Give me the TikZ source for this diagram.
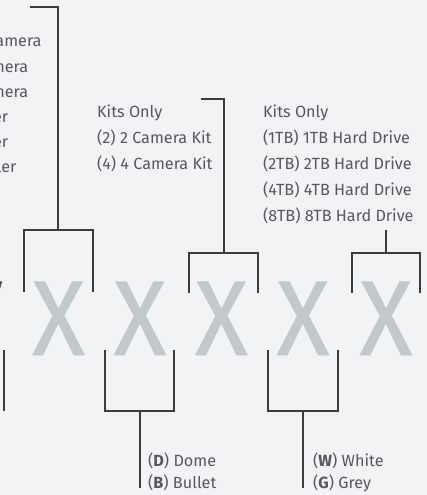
\documentclass[tikz,border=0pt]{standalone}
\usepackage{fontspec}
\setmainfont{Fira Sans}
\newfontfamily\xfont{Fira Sans}[FakeBold=0.9]
\usepackage{graphicx}
\definecolor{bg}{HTML}{F2F3F5}
\definecolor{lc}{HTML}{3C3C3C}
\definecolor{xg}{HTML}{C1C9CD}
\definecolor{tc}{HTML}{55595D}
\definecolor{dk}{HTML}{4A4A4A}
\begin{document}
\begin{tikzpicture}[x=1pt,y=-1pt,
  lbl/.style={font=\fontsize{16.2}{19}\selectfont, text=tc, inner sep=0pt},
  xl/.style={font=\xfont\fontsize{106}{106}\selectfont, text=xg, inner sep=0pt, anchor=base},
  br/.style={draw=lc, line width=1.1pt}]
\useasboundingbox (0,0) rectangle (427,495);
\clip (0,0) rectangle (427,495);
\fill[bg] (0,0) rectangle (427,495);

% big letters
\node[xl, text=dk] (x0) at (-25,355) {\scalebox{0.92}[1]{V}};
\node[xl] (x1) at (58.5,355) {\scalebox{0.92}[1]{X}};
\node[xl] (x2) at (140,355) {\scalebox{0.92}[1]{X}};
\node[xl] (x3) at (221.5,355) {\scalebox{0.92}[1]{X}};
\node[xl] (x4) at (303,355) {\scalebox{0.92}[1]{X}};
\node[xl] (x5) at (386,355) {\scalebox{0.92}[1]{X}};

% left (cut) group
\node[lbl, anchor=base east] (l1) at (41.7,47) {amera};
\node[lbl, anchor=base east] (l2) at (28.3,72) {nera};
\node[lbl, anchor=base east] (l3) at (28.3,97) {nera};
\node[lbl, anchor=base east] (l4) at (8.3,122) {er};
\node[lbl, anchor=base east] (l5) at (8.3,147) {er};
\node[lbl, anchor=base east] (l6) at (16.7,172) {ler};

% kits group
\node[lbl, anchor=base west] (k1) at (97,117) {Kits Only};
\node[lbl, anchor=base west] (k2) at (97,143) {(2) 2 Camera Kit};
\node[lbl, anchor=base west] (k3) at (97,169) {(4) 4 Camera Kit};

% hard drive group
\node[lbl, anchor=base west] (h1) at (263,117) {Kits Only};
\node[lbl, anchor=base west] (h2) at (263,143) {(1TB) 1TB Hard Drive};
\node[lbl, anchor=base west] (h3) at (263,169) {(2TB) 2TB Hard Drive};
\node[lbl, anchor=base west] (h4) at (263,195) {(4TB) 4TB Hard Drive};
\node[lbl, anchor=base west] (h5) at (263,221) {(8TB) 8TB Hard Drive};

% bottom groups
\node[lbl, anchor=base west] (d1) at (148,466.5) {(\textbf{D}) Dome};
\node[lbl, anchor=base west] (d2) at (148,488) {(\textbf{B}) Bullet};
\node[lbl, anchor=base west] (w1) at (313,466.5) {(\textbf{W}) White};
\node[lbl, anchor=base west] (w2) at (313,488) {(\textbf{G}) Grey};

% coordinates
\coordinate (t1) at (30,7);
\coordinate (t2) at (201,99);

% bracket 1 (top, under left group)
\draw[br] (t1) -- (58,7) -- (58,230);
\draw[br] (24,292) -- (24,230) -- (93,230) -- (93,292);
% bracket 2 (bottom)
\draw[br] (105,350) -- (105,411) -- (174,411) -- (174,350);
\draw[br] (140,411) -- (140,488);
% bracket 3 (top)
\draw[br] (t2) -- (224,99) -- (224,253);
\draw[br] (189,293) -- (189,253) -- (258,253) -- (258,293);
% bracket 4 (bottom)
\draw[br] (268,350) -- (268,411) -- (338,411) -- (338,350);
\draw[br] (303,411) -- (303,488);
% bracket 5 (top)
\draw[br] (386,230) -- (386,253);
\draw[br] (352,293) -- (352,253) -- (420,253) -- (420,293);
% cut bracket at left
\draw[br] (4,350) -- (4,411);
\end{tikzpicture}
\end{document}
